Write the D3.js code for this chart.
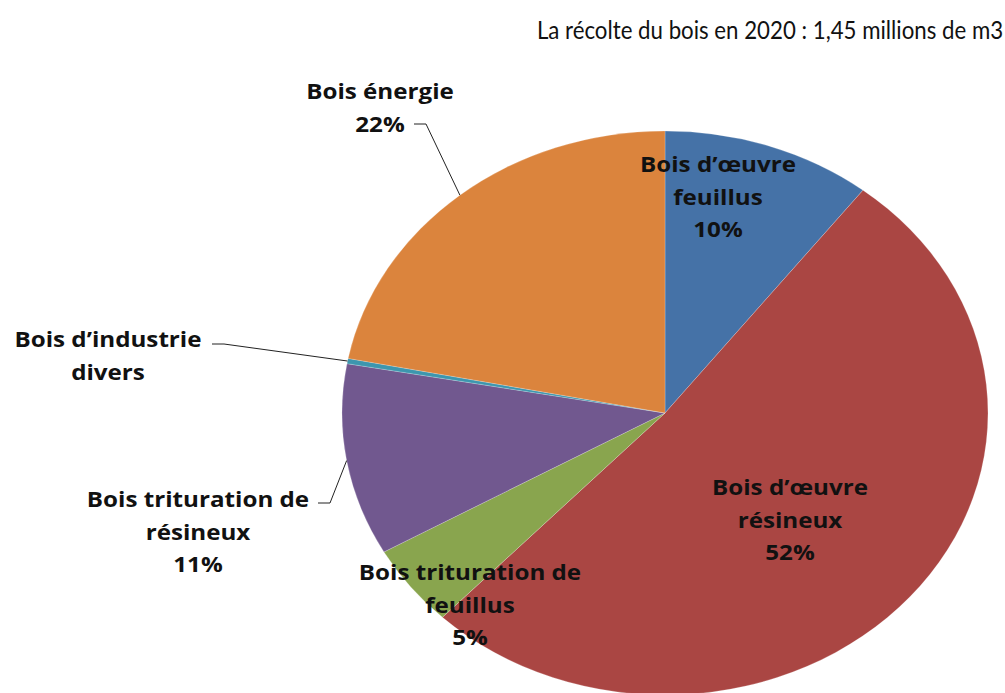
<!DOCTYPE html>
<html>
<head>
<meta charset="utf-8">
<script src="https://cdn.jsdelivr.net/npm/d3@7"></script>
<style>
  body { margin:0; background:#fff; }
  text { fill:#111; }
  .lbl { font-family: "Open Sans", Lato, sans-serif; font-weight:bold; font-size:20.5px; }
  .title { font-family: Lato, "Open Sans", sans-serif; font-size:25px; }
</style>
</head>
<body>
<svg id="chart" width="1005" height="693"></svg>
<script>
// data, clockwise from 12 o'clock
const categories = ['Bois d\u2019œuvre feuillus','Bois d\u2019œuvre résineux','Bois trituration de feuillus',
                    'Bois trituration de résineux','Bois d\u2019industrie divers','Bois énergie'];
const values = [10.5, 51.6, 4.7, 11.0, 0.3, 21.9];
const colors = ['#4572A7','#AA4643','#89A54E','#71588F','#3D96AE','#DB843D'];
const titleText = 'La récolte du bois en 2020 : 1,45 millions de m3';

// label layout: text lines, center x, first baseline y, optional leader start
const labelLines = [
  ['Bois d\u2019œuvre','feuillus','10%'],
  ['Bois d\u2019œuvre','résineux','52%'],
  ['Bois trituration de','feuillus','5%'],
  ['Bois trituration de','résineux','11%'],
  ['Bois d\u2019industrie','divers'],
  ['Bois énergie','22%']
];
const labelPos = [[718,172],[790,495],[470,580],[198,507],[108,347],[380,99]];
const leaderStart = [null,null,null,[318,503],[212,344],[414,124]];
const lineGap = 32.5;

const svg = d3.select('#chart');
const cx = 665, cy = 413, ry = 282, rx = 323;
const sx = rx / ry;

const pie = d3.pie().sort(null).value(d => d);
const arcs = pie(values);
const arc = d3.arc().innerRadius(0).outerRadius(ry);

const g = svg.append('g')
    .attr('transform', `translate(${cx},${cy}) scale(${sx},1)`);

g.selectAll('path').data(arcs)
  .enter().append('path')
    .attr('d', arc)
    .attr('fill', (d,i) => colors[i])
    .attr('stroke', 'rgba(255,255,255,0.35)')
    .attr('stroke-width', 0.6)
    .attr('vector-effect', 'non-scaling-stroke');

// point on the rim at the middle of a slice
const rimPoint = d => {
    const a = (d.startAngle + d.endAngle) / 2;
    return [cx + rx * Math.sin(a), cy - ry * Math.cos(a)];
};

// leader lines
arcs.forEach((d,i) => {
    const s = leaderStart[i];
    if (!s) return;
    const p = rimPoint(d);
    svg.append('polyline')
        .attr('points', `${s[0]},${s[1]} ${s[0]+12},${s[1]} ${p[0]},${p[1]}`)
        .attr('fill', 'none')
        .attr('stroke', '#222')
        .attr('stroke-width', 1);
});

// labels
labelLines.forEach((lines,i) => {
    const [x,y] = labelPos[i];
    lines.forEach((t,j) => {
        svg.append('text')
            .attr('class', 'lbl')
            .attr('text-anchor', 'middle')
            .attr('transform', `translate(${x},${y + j*lineGap}) scale(1.18,1)`)
            .text(t);
    });
});

svg.append('text')
    .attr('class', 'title')
    .attr('text-anchor', 'middle')
    .attr('transform', 'translate(770,39) scale(0.89,1)')
    .text(titleText);
</script>
</body>
</html>
